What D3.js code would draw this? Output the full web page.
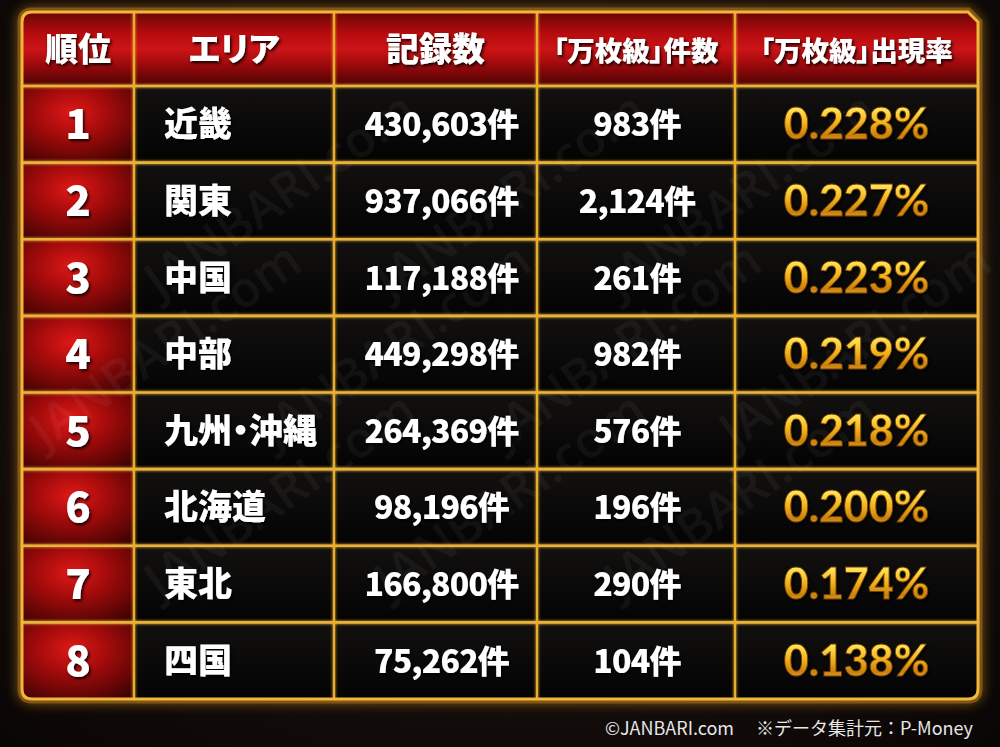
<!DOCTYPE html>
<html><head><meta charset="utf-8">
<script src="https://cdn.jsdelivr.net/npm/d3@7"></script>
<style>
html,body{margin:0;padding:0;background:#0b0705;}
svg{display:block;}
text{font-feature-settings:"palt";}
text.foot{font-feature-settings:normal;}
</style></head>
<body>
<svg id="chart" width="1000" height="747"></svg>
<script>
// ---- data ----
const headers = ["順位", "エリア", "記録数", "「万枚級」件数", "「万枚級」出現率"];
const ranks = ["1","2","3","4","5","6","7","8"];
const areas = ["近畿","関東","中国","中部","九州・沖縄","北海道","東北","四国"];
const records = [430603, 937066, 117188, 449298, 264369, 98196, 166800, 75262];
const bigWins = [983, 2124, 261, 982, 576, 196, 290, 104];
const rates = [0.228, 0.227, 0.223, 0.219, 0.218, 0.200, 0.174, 0.138];
const footer = "©JANBARI.com　 ※データ集計元：P-Money";

// ---- layout ----
const W = 1000, H = 747;
const colEdges = [22, 134, 334, 537, 735, 978];
const tTop = 12, headBottom = 86, tBottom = 699;
const svg = d3.select("#chart");
const defs = svg.append("defs");
const font = "'Noto Sans CJK JP','Noto Sans',sans-serif";

const y = d3.scaleBand().domain(ranks).range([headBottom, tBottom]).paddingInner(0);
const colX = d3.scaleOrdinal().domain(d3.range(5)).range(colEdges.slice(0,5));
const colW = i => colEdges[i+1] - colEdges[i];

// gradients
const bg = defs.append("radialGradient").attr("id","bg").attr("cx","50%").attr("cy","45%").attr("r","75%");
bg.append("stop").attr("offset","0%").attr("stop-color","#221814");
bg.append("stop").attr("offset","100%").attr("stop-color","#0a0605");

const hg = defs.append("linearGradient").attr("id","hdr").attr("x1",0).attr("y1",0).attr("x2",0).attr("y2",1);
[["0%","#6a0506"],["30%","#b80c0f"],["50%","#cc1417"],["70%","#a00a0c"],["100%","#4a0203"]].forEach(s=>hg.append("stop").attr("offset",s[0]).attr("stop-color",s[1]));

const rg = defs.append("radialGradient").attr("id","rk").attr("cx","45%").attr("cy","35%").attr("r","80%");
[["0%","#e01818"],["40%","#a30b0b"],["100%","#3a0202"]].forEach(s=>rg.append("stop").attr("offset",s[0]).attr("stop-color",s[1]));

const cg = defs.append("linearGradient").attr("id","cell").attr("x1",0).attr("y1",0).attr("x2",0).attr("y2",1);
[["0%","#121110"],["100%","#040303"]].forEach(s=>cg.append("stop").attr("offset",s[0]).attr("stop-color",s[1]));

const gg = defs.append("linearGradient").attr("id","gold").attr("x1",0).attr("y1",0).attr("x2",0).attr("y2",1);
[["0%","#fff8b8"],["25%","#ffe050"],["50%","#f2b21c"],["75%","#c9800c"],["100%","#ffcf4a"]].forEach(s=>gg.append("stop").attr("offset",s[0]).attr("stop-color",s[1]));

const glow = defs.append("filter").attr("id","glow").attr("x","-10%").attr("y","-10%").attr("width","120%").attr("height","120%");
glow.append("feGaussianBlur").attr("stdDeviation",6).attr("result","b");
const gm = glow.append("feMerge"); gm.append("feMergeNode").attr("in","b"); gm.append("feMergeNode").attr("in","SourceGraphic");

const lglow = defs.append("filter").attr("id","lglow").attr("x","-5%").attr("y","-50%").attr("width","110%").attr("height","200%");
lglow.append("feGaussianBlur").attr("stdDeviation",1.5).attr("result","b");
const lm = lglow.append("feMerge"); lm.append("feMergeNode").attr("in","b"); lm.append("feMergeNode").attr("in","SourceGraphic");

const sh = defs.append("filter").attr("id","shadow").attr("x","-20%").attr("y","-20%").attr("width","140%").attr("height","140%");
sh.append("feDropShadow").attr("dx",1.5).attr("dy",2).attr("stdDeviation",1.5).attr("flood-color","#000").attr("flood-opacity",0.9);

// background
svg.append("rect").attr("width",W).attr("height",H).attr("fill","url(#bg)");

// table outline path with rounded corners
const r = 10;
const x0 = colEdges[0], x1 = colEdges[5];
const outline = `M${x0+r},${tTop} L${x1-r},${tTop} L${x1},${tTop+r} L${x1},${tBottom-r} Q${x1},${tBottom} ${x1-r},${tBottom} L${x0+r},${tBottom} Q${x0},${tBottom} ${x0},${tBottom-r} L${x0},${tTop+r} Q${x0},${tTop} ${x0+r},${tTop} Z`;
svg.append("path").attr("d",outline).attr("fill","none").attr("stroke","#f0a020").attr("stroke-width",9).attr("opacity",0.5).attr("filter","url(#glow)");

const clip = defs.append("clipPath").attr("id","tbl");
clip.append("path").attr("d",outline);

const tbl = svg.append("g").attr("clip-path","url(#tbl)");

// header cells
tbl.selectAll("rect.h").data(headers).join("rect")
  .attr("x",(d,i)=>colX(i)).attr("y",tTop).attr("width",(d,i)=>colW(i)).attr("height",headBottom-tTop)
  .attr("fill","url(#hdr)");

// body cells
ranks.forEach((rk,ri)=>{
  d3.range(5).forEach(ci=>{
    tbl.append("rect").attr("x",colX(ci)).attr("y",y(rk)).attr("width",colW(ci)).attr("height",y.bandwidth())
      .attr("fill", ci===0 ? "url(#rk)" : "url(#cell)");
  });
});

// watermarks (kept fully inside the picture)
const wm = svg.append("g").attr("pointer-events","none");
const wmPos = [];
for (let gx=-300; gx<1200; gx+=230) for (let gy=0; gy<1000; gy+=150) wmPos.push([gx + (Math.round(gy/150)%2)*115, gy]);
const wmKeep = wmPos.filter(d => d[0] >= 4 && d[0] + 250 <= 996 && d[1] - 180 >= 4 && d[1] + 15 <= 743);
wm.selectAll("text").data(wmKeep).join("text")
  .attr("transform",d=>`translate(${d[0]},${d[1]}) rotate(-35)`)
  .attr("font-family","'Open Sans',sans-serif").attr("font-size",50).attr("font-weight",600)
  .attr("fill","#ffffff").attr("opacity",0.045).text("JANBARI.com");

// grid lines
const grid = svg.append("g").attr("filter","url(#lglow)");
const hLines = [headBottom].concat(ranks.slice(1).map(d=>y(d)));
grid.selectAll("line.h").data(hLines).join("line")
  .attr("x1",x0).attr("x2",x1).attr("y1",d=>d).attr("y2",d=>d)
  .attr("stroke","#eab23a").attr("stroke-width",2.6);
grid.selectAll("line.v").data(colEdges.slice(1,5)).join("line")
  .attr("x1",d=>d).attr("x2",d=>d).attr("y1",tTop).attr("y2",tBottom)
  .attr("stroke","#e9ad2e").attr("stroke-width",2.2);
svg.append("path").attr("d",outline).attr("fill","none").attr("stroke","#f2b73a").attr("stroke-width",3);

// header text
svg.append("g").selectAll("text").data(headers).join("text")
  .attr("x",(d,i)=>colX(i)+colW(i)/2).attr("y",(tTop+headBottom)/2+12)
  .attr("text-anchor","middle").attr("font-family",font).attr("font-weight",900)
  .attr("font-size",(d,i)=> i>=3 ? 27.5 : 33).attr("fill","#fff").attr("filter","url(#shadow)")
  .text(d=>d);

const fmt = d3.format(",");
const body = svg.append("g").attr("font-family",font).attr("font-weight",900).attr("filter","url(#shadow)");
const cy = d => y(d) + y.bandwidth()/2;

body.selectAll("text.rank").data(ranks).join("text").attr("class","rank")
  .attr("x",colX(0)+colW(0)/2).attr("y",d=>cy(d)+15).attr("text-anchor","middle")
  .attr("font-size",42).attr("fill","#fff").text(d=>d);

body.selectAll("text.area").data(areas).join("text").attr("class","area")
  .attr("x",colX(1)+30).attr("y",(d,i)=>cy(ranks[i])+12)
  .attr("font-size",34).attr("fill","#fff").text(d=>d);

body.selectAll("text.rec").data(records).join("text").attr("class","rec")
  .attr("x",colX(2)+colW(2)/2+6).attr("y",(d,i)=>cy(ranks[i])+12).attr("text-anchor","middle")
  .attr("font-size",32).attr("fill","#fff").attr("letter-spacing",-0.8).text(d=>fmt(d)+"件");

body.selectAll("text.big").data(bigWins).join("text").attr("class","big")
  .attr("x",colX(3)+colW(3)/2+1).attr("y",(d,i)=>cy(ranks[i])+12).attr("text-anchor","middle")
  .attr("font-size",32).attr("fill","#fff").attr("letter-spacing",-0.8).text(d=>fmt(d)+"件");

body.selectAll("text.rate").data(rates).join("text").attr("class","rate")
  .attr("x",colX(4)+colW(4)/2).attr("y",(d,i)=>cy(ranks[i])+15).attr("text-anchor","middle")
  .attr("font-family","'Lato','Noto Sans',sans-serif").attr("font-weight",900)
  .attr("font-size",43).attr("fill","url(#gold)").attr("stroke","#6b3a05").attr("stroke-width",0.8)
  .text(d=>d3.format(".3f")(d)+"%");

// footer
svg.append("text").attr("class","foot").attr("x",973).attr("y",735).attr("text-anchor","end")
  .attr("font-family",font).attr("font-size",18).attr("fill","#e6e6e6").text(footer);
</script>
</body></html>
